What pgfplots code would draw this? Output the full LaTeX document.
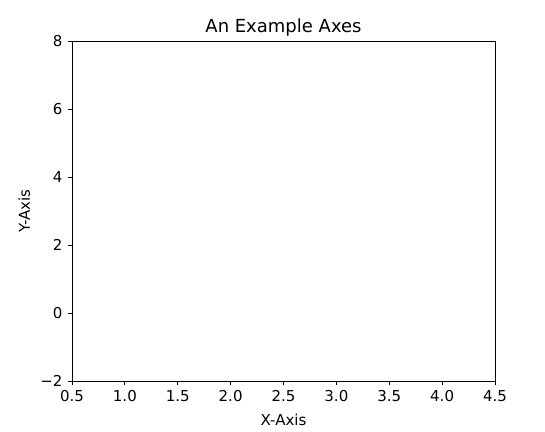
\documentclass[border=0pt]{standalone}
\usepackage{fontspec}
\setmainfont{DejaVu Sans}
\usepackage{pgfplots}
\pgfplotsset{compat=1.18}

\begin{document}
\fontsize{15pt}{18pt}\selectfont
\begin{tikzpicture}
\begin{axis}[
 scale only axis, width=423pt, height=340pt,
 at={(0,0)}, anchor=south west,
 xmin=0.5, xmax=4.5, ymin=-2, ymax=8,
 xtick={0.5,1,1.5,2,2.5,3,3.5,4,4.5},
 xticklabels={0.5,1.0,1.5,2.0,2.5,3.0,3.5,4.0,4.5},
 ytick={-2,0,2,4,6,8},
 yticklabels={−2,0,2,4,6,8},
 tick align=outside, tick pos=left,
 major tick length=4.4pt,
 tick style={black, line width=0.9pt},
 axis line style={line width=0.9pt},
 ticklabel style={font=\fontsize{15pt}{18pt}\selectfont},
 /pgf/number format/assume math mode=true,
 title={An Example Axes},
 title style={font=\fontsize{18pt}{21pt}\selectfont, yshift=-6pt},
 xlabel={X-Axis}, ylabel={Y-Axis},
 label style={font=\fontsize{15pt}{18pt}\selectfont},
 xlabel style={yshift=-2pt},
]
\end{axis}
\path[use as bounding box] (-72pt,-50pt) rectangle (473pt,381pt);
\end{tikzpicture}
\end{document}
